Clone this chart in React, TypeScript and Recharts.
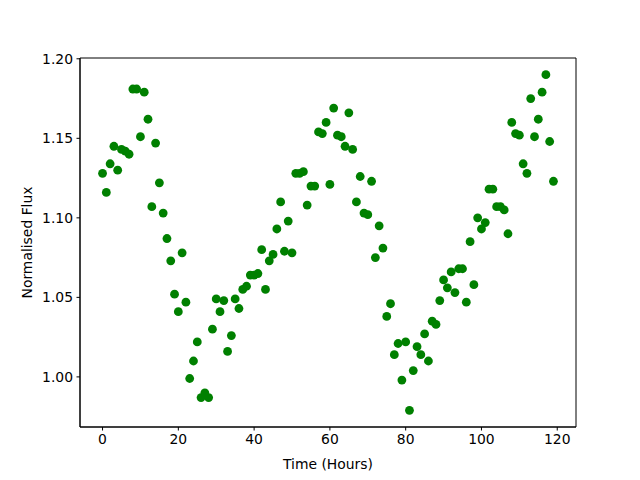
import { Label, ReferenceArea, Scatter, ScatterChart, XAxis, YAxis } from "recharts";

// hours 0..119, one reading each
const FLUX = [
  1.128, 1.116, 1.134, 1.145, 1.13, 1.143, 1.142, 1.14, 1.181, 1.181,
  1.151, 1.179, 1.162, 1.107, 1.147, 1.122, 1.103, 1.087, 1.073, 1.052,
  1.041, 1.078, 1.047, 0.999, 1.01, 1.022, 0.987, 0.99, 0.987, 1.03,
  1.049, 1.041, 1.048, 1.016, 1.026, 1.049, 1.043, 1.055, 1.057, 1.064,
  1.064, 1.065, 1.08, 1.055, 1.073, 1.077, 1.093, 1.11, 1.079, 1.098,
  1.078, 1.128, 1.128, 1.129, 1.108, 1.12, 1.12, 1.154, 1.153, 1.16,
  1.121, 1.169, 1.152, 1.151, 1.145, 1.166, 1.143, 1.11, 1.126, 1.103,
  1.102, 1.123, 1.075, 1.095, 1.081, 1.038, 1.046, 1.014, 1.021, 0.998,
  1.022, 0.979, 1.004, 1.019, 1.014, 1.027, 1.01, 1.035, 1.033, 1.048,
  1.061, 1.056, 1.066, 1.053, 1.068, 1.068, 1.047, 1.085, 1.058, 1.1,
  1.093, 1.097, 1.118, 1.118, 1.107, 1.107, 1.105, 1.09, 1.16, 1.153,
  1.152, 1.134, 1.128, 1.175, 1.151, 1.162, 1.179, 1.19, 1.148, 1.123,
];
const X_TICKS = [0, 20, 40, 60, 80, 100, 120];
const Y_TICKS = [1.0, 1.05, 1.1, 1.15, 1.2];

const X_DOMAIN: [number, number] = [-5.95, 124.95];
const Y_DOMAIN: [number, number] = [0.9685, 1.2005];

const data = FLUX.map((flux, hour) => ({ hour, flux }));

const FONT = "DejaVu Sans, sans-serif";
const tickStyle = { fill: "#000", fontSize: 13.9, fontFamily: FONT };

function Dot(props: any) {
  return <circle cx={props.cx} cy={props.cy} r={4.4} fill="#008000" />;
}

export default function App() {
  return (
    <div style={{ position: "absolute", left: 0, top: 0, background: "#fff" }}>
      <ScatterChart
        width={640}
        height={480}
        margin={{ top: 58, right: 64, bottom: 0, left: 0 }}
      >
        <XAxis
          dataKey="hour"
          type="number"
          domain={X_DOMAIN}
          ticks={X_TICKS}
          allowDataOverflow
          height={53}
          tick={tickStyle}
          tickSize={3.5}
          tickMargin={3.5}
          stroke="#000"
        >
          <Label
            value="Time (Hours)"
            position="insideBottom"
            offset={11}
            style={{ fill: "#000", fontSize: 13.9, fontFamily: FONT }}
          />
        </XAxis>
        <YAxis
          dataKey="flux"
          type="number"
          domain={Y_DOMAIN}
          ticks={Y_TICKS}
          allowDataOverflow
          width={80}
          tick={tickStyle}
          tickSize={3.5}
          tickMargin={3.5}
          tickFormatter={(v) => Number(v).toFixed(2)}
          stroke="#000"
        >
          <Label
            value="Normalised Flux"
            angle={-90}
            position="insideLeft"
            offset={27}
            style={{ fill: "#000", fontSize: 13.9, fontFamily: FONT, textAnchor: "middle" }}
          />
        </YAxis>
        {/* axes frame, like matplotlib's four spines */}
        <ReferenceArea
          x1={X_DOMAIN[0]}
          x2={X_DOMAIN[1]}
          y1={Y_DOMAIN[0]}
          y2={Y_DOMAIN[1]}
          fill="none"
          fillOpacity={0}
          stroke="#000"
          strokeWidth={1}
          ifOverflow="visible"
        />
        <Scatter data={data} shape={Dot} isAnimationActive={false} />
      </ScatterChart>
    </div>
  );
}
